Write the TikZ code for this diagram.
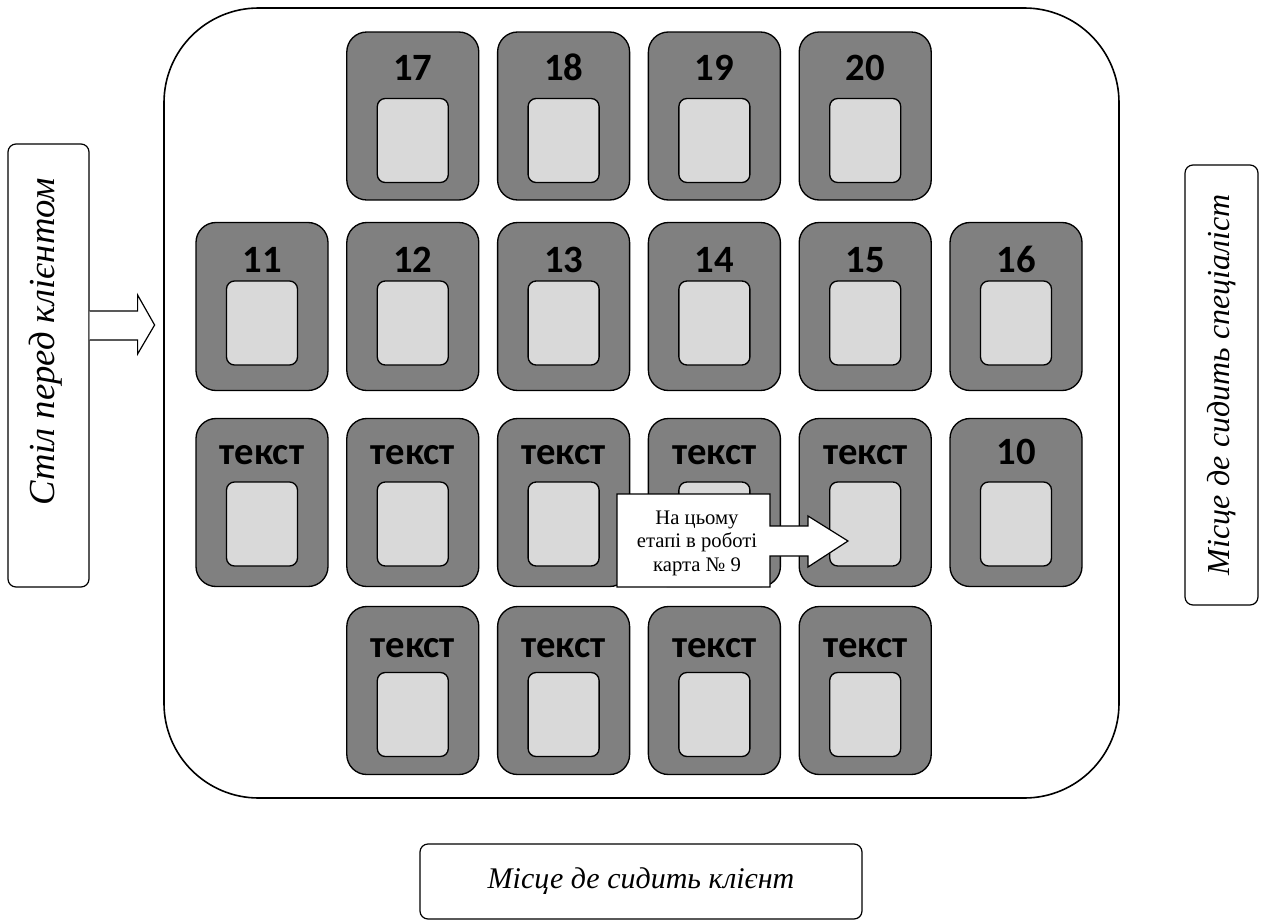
\documentclass[tikz,border=0pt]{standalone}
\usepackage{fontspec}
\setmainfont{Liberation Serif}
\newfontfamily\cardfont{Carlito}
\usetikzlibrary{calc}
\definecolor{cardgray}{RGB}{128,128,128}
\definecolor{slotgray}{RGB}{217,217,217}
\begin{document}
\begin{tikzpicture}[x=0.75pt,y=-0.75pt,
  hall/.style={draw=black, line width=1.2pt, rounded corners=71pt, inner sep=0pt},
  card/.style={draw=black, line width=1pt, fill=cardgray, rounded corners=15pt,
    minimum width=99pt, minimum height=126pt, inner sep=0pt},
  slot/.style={draw=black, line width=1pt, fill=slotgray, rounded corners=6pt,
    minimum width=53.25pt, minimum height=63pt, inner sep=0pt},
  num/.style={font=\cardfont\bfseries\fontsize{29}{33}\selectfont, anchor=base, inner sep=0pt},
  sidebox/.style={draw=black, line width=0.9pt, rounded corners=6pt, fill=white, inner sep=0pt},
  sidetext/.style={font=\itshape\fontsize{24}{28}\selectfont, inner sep=0pt},
  blockarrow/.style={draw=black, line width=0.9pt, fill=white, line join=miter}
]
\useasboundingbox (0,0) rectangle (1261,921);

% hall
\node[hall, minimum width=716.25pt, minimum height=592.5pt] (hall) at (641.5,403) {};

% cards: name / label / centre x / centre y / slot centre y / label baseline y
\foreach \name/\lab/\cx/\cy/\sy/\ly in {
  17/17/412.8/116/140.5/80, 18/18/563.6/116/140.5/80, 19/19/714.4/116/140.5/80, 20/20/865.2/116/140.5/80,
  11/11/262/306.5/323/272, 12/12/412.8/306.5/323/272, 13/13/563.6/306.5/323/272,
  14/14/714.4/306.5/323/272, 15/15/865.2/306.5/323/272, 16/16/1016/306.5/323/272,
  t1/текст/262/502.5/524/464, t2/текст/412.8/502.5/524/464, t3/текст/563.6/502.5/524/464,
  t4/текст/714.4/502.5/524/464, t5/текст/865.2/502.5/524/464, 10/10/1016/502.5/524/464,
  t6/текст/412.8/690.5/714.5/657, t7/текст/563.6/690.5/714.5/657,
  t8/текст/714.4/690.5/714.5/657, t9/текст/865.2/690.5/714.5/657}{
  \node[card] (card\name) at (\cx,\cy) {};
  \node[slot] (slot\name) at (\cx,\sy) {};
  \node[num] (lab\name) at (\cx,\ly) {\lab};
}

% left table box and arrow
\node[sidebox, minimum width=60.75pt, minimum height=332.25pt] (left) at (48.5,365.5) {};
\node[inner sep=0pt, rotate=90, font=\itshape\fontsize{27.5}{31}\selectfont] (lefttext) at (46,342) {Стіл перед клієнтом};
\coordinate (la) at (left.east |- 0,325);
\draw[blockarrow] ($(la)+(0,-14)$) -- ($(la)+(48,-14)$) -- ($(la)+(48,-30)$) -- ($(la)+(65,0)$)
  -- ($(la)+(48,29)$) -- ($(la)+(48,15)$) -- ($(la)+(0,15)$);

% right box
\node[sidebox, minimum width=54.75pt, minimum height=330pt] (right) at (1221.5,385) {};
\node[sidetext, rotate=90] (righttext) at (right.center) {Місце де сидить спеціаліст};

% bottom box
\node[sidebox, minimum width=331.5pt, minimum height=56.25pt, sidetext, font=\itshape\fontsize{22.5}{26}\selectfont] (bottom) at (641,881.5) {Місце де сидить клієнт};

% callout
\coordinate (co) at (617,494);
\draw[blockarrow] (co) -- (770,494) -- (770,526) -- (808,526) -- (808,516) -- (848,541)
  -- (808,567) -- (808,556) -- (770,556) -- (770,587) -- (617,587) -- cycle;
\node[align=center, font=\fontsize{15.5}{17.6}\selectfont, inner sep=0pt] (callout) at (697,543)
  {На цьому\\етапі в роботі\\карта № 9};
\end{tikzpicture}
\end{document}
